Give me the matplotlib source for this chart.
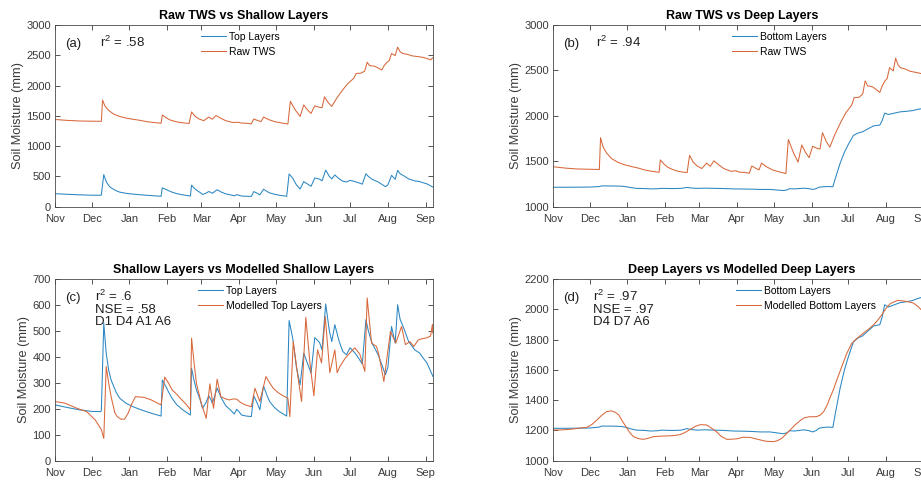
import pandas as pd
import matplotlib
matplotlib.use("Agg")
import matplotlib.pyplot as plt
import matplotlib.dates as mdates

plt.rcParams["font.family"] = ["Liberation Sans", "DejaVu Sans"]
plt.rcParams["mathtext.fontset"] = "custom"
plt.rcParams["mathtext.rm"] = "Liberation Sans"
plt.rcParams["mathtext.it"] = "Liberation Sans:italic"

# days counted from 1 Nov
tws_day = [0, 10, 20, 30, 38, 39, 41, 44, 48, 53, 59, 65, 70, 75, 81, 87, 88, 91, 94, 98,
           102, 106, 110, 112, 115, 118, 122, 126, 129, 132, 136, 140, 146, 150, 153, 157,
           161, 163, 166, 169, 171, 175, 180, 185, 191, 193, 197, 201, 204, 207, 210, 213,
           217, 219, 221, 224, 227, 231, 236, 240, 245, 247, 251, 254, 256, 258, 262, 265,
           268, 270, 272, 274, 276, 279, 281, 283, 285, 289, 293, 297, 302, 306, 308, 310]
tws_val = [1440, 1425, 1415, 1412, 1410, 1760, 1660, 1590, 1530, 1490, 1460, 1440, 1425,
           1405, 1390, 1378, 1515, 1470, 1435, 1410, 1392, 1382, 1375, 1565, 1490, 1450,
           1420, 1480, 1445, 1505, 1460, 1420, 1390, 1395, 1380, 1378, 1368, 1448, 1425,
           1405, 1480, 1440, 1405, 1385, 1365, 1740, 1600, 1490, 1680, 1600, 1540, 1665,
           1640, 1635, 1815, 1720, 1655, 1790, 1930, 2030, 2120, 2200, 2205, 2240, 2385,
           2330, 2320, 2290, 2258, 2330, 2380, 2410, 2530, 2495, 2635, 2560, 2530, 2515,
           2490, 2480, 2465, 2440, 2425, 2460]

top_day = [0, 10, 20, 30, 37, 38, 40, 42, 44, 46, 50, 53, 58, 64, 70, 75, 81, 87, 88, 91,
           93, 96, 100, 105, 111, 112, 114, 116, 119, 121, 124, 126, 128, 129, 131, 133,
           136, 140, 144, 147, 149, 151, 153, 157, 161, 163, 166, 168, 171, 174, 176, 180,
           184, 190, 192, 195, 198, 201, 204, 207, 210, 213, 215, 217, 219, 222, 225, 227,
           229.5, 233, 236, 239, 242, 246, 249, 252, 255, 257, 260, 265, 268, 271, 273,
           276, 279, 281, 283, 286, 290, 295, 299, 302, 305, 308, 310]
top_val = [215, 205, 196, 190, 189, 192, 530, 414, 350, 311, 265, 241, 222, 208, 197, 189,
           180, 172, 311, 285, 266, 240, 215, 195, 176, 356, 310, 273, 235, 202, 225, 250,
           235, 221, 250, 280, 245, 212, 195, 180, 198, 188, 176, 172, 170, 250, 220, 196,
           288, 250, 228, 205, 189, 172, 540, 470, 360, 292, 414, 376, 337, 474, 465, 455,
           427, 604, 500, 459, 524, 460, 421, 408, 435, 415, 395, 372, 543, 500, 453, 408,
           370, 331, 360, 517, 453, 601, 545, 511, 459, 427, 415, 395, 377, 345, 324]

mtop_day = [0, 8, 18, 26, 33, 36, 38, 40, 42, 44, 46, 49, 51, 54, 57, 60, 63, 66, 70, 73,
            79, 84, 87, 88, 90, 93, 96, 100, 104, 108, 111, 112, 114, 116, 120, 124, 127,
            130, 133, 136, 140, 143, 146, 149, 152, 156, 161, 164, 168, 173, 176, 179, 183,
            187, 191, 192.6, 195.4, 199, 202.2, 205.7, 209, 212.3, 215.3, 218.6, 221.6,
            225.4, 229.5, 231.4, 233.6, 238, 241.8, 245.9, 250, 254.1, 256, 259.6, 263.7,
            266, 269.7, 275.1, 279.5, 284.2, 287.4, 291, 294.3, 297.8, 301, 304.6, 308,
            309.5, 310]
mtop_val = [228, 222, 202, 189, 157, 135, 120, 86, 363, 300, 247, 185, 170, 160, 160, 183,
            220, 247, 245, 244, 234, 222, 215, 250, 322, 300, 273, 255, 234, 215, 196, 472,
            380, 298, 221, 163, 296, 202, 314, 247, 238, 234, 238, 237, 225, 215, 208, 279,
            228, 324, 300, 279, 262, 250, 241, 170, 459, 330, 228, 552, 380, 250, 427, 377,
            556, 339, 427, 339, 363, 395, 415, 435, 410, 344, 627, 453, 440, 400, 305, 498,
            453, 517, 447, 459, 440, 465, 470, 473, 480, 525, 490]

bot_day = [0, 10, 20, 30, 38, 40, 50, 56, 60, 64, 68, 75, 80, 86, 89, 95, 100, 105, 110,
           113, 118, 125, 132, 140, 148, 155, 163, 170, 178, 185, 189, 192, 194, 198, 202,
           206, 210, 213, 216, 218, 222, 226, 229.5, 231.5, 235.5, 239, 242.3, 246.4, 250,
           254, 258.7, 263, 268, 270, 272, 275, 280, 284.7, 290, 295, 298, 302, 306, 310]
bot_val = [1214, 1214, 1215, 1216, 1222, 1229, 1228, 1226, 1220, 1210, 1202, 1200, 1196,
           1198, 1202, 1200, 1200, 1202, 1212, 1206, 1202, 1204, 1202, 1200, 1196, 1195,
           1193, 1190, 1190, 1182, 1178, 1185, 1198, 1196, 1200, 1204, 1198, 1190, 1200,
           1214, 1220, 1222, 1220, 1310, 1480, 1600, 1688, 1785, 1810, 1825, 1860, 1890,
           1898, 1950, 2030, 2015, 2030, 2044, 2050, 2058, 2068, 2078, 2080, 2085]

mbot_day = [0, 6, 15, 22, 28, 32, 36, 40, 44, 48, 51, 54, 57, 60.7, 63, 66, 70, 74, 78,
            82.5, 90, 98, 104, 108, 112.6, 117, 120.8, 126, 130, 134, 138, 142.6, 147, 151,
            156, 161.7, 166, 170, 175, 181, 184, 187.7, 191, 194.5, 199, 202.7, 206, 210,
            216, 219, 222, 225, 227, 230, 232.8, 237, 241, 245, 248, 254.6, 259, 263, 266,
            269.7, 273, 276.5, 280, 283, 287, 290, 295.6, 299, 302, 306, 310]
mbot_val = [1203, 1203, 1208, 1215, 1221, 1240, 1269, 1300, 1324, 1329, 1320, 1302, 1260,
            1214, 1185, 1159, 1146, 1141, 1148, 1159, 1163, 1165, 1172, 1185, 1207, 1228,
            1238, 1236, 1215, 1192, 1160, 1141, 1142, 1145, 1155, 1154, 1145, 1137, 1128,
            1126, 1132, 1148, 1175, 1203, 1240, 1265, 1283, 1290, 1291, 1300, 1324, 1370,
            1413, 1470, 1534, 1625, 1710, 1775, 1799, 1843, 1870, 1898, 1925, 1964, 2005,
            2037, 2050, 2059, 2055, 2052, 2041, 2020, 1997, 1975, 1955]

start = pd.Timestamp("2014-11-01")
end = start + pd.Timedelta(days=310)


def dates(days):
    return start + pd.to_timedelta(days, unit="D")


blue = "#2a86c2"
orange = "#d8673a"
dark = "#3a3a3a"

fig = plt.figure(figsize=(9.21, 4.83), dpi=100)
w, h = 378 / 921, 181.7 / 483
ax_a = fig.add_axes([55 / 921, 1 - 206.7 / 483, w, h])
ax_b = fig.add_axes([553 / 921, 1 - 206.7 / 483, w, h])
ax_c = fig.add_axes([55 / 921, 1 - 460.7 / 483, w, h])
ax_d = fig.add_axes([553 / 921, 1 - 460.7 / 483, w, h])


def style(ax, ylim, yticks, title):
    ax.set_xlim(start, end)
    ax.set_ylim(*ylim)
    ax.set_yticks(yticks)
    ax.xaxis.set_major_locator(mdates.MonthLocator())
    ax.xaxis.set_major_formatter(mdates.DateFormatter("%b"))
    ax.tick_params(direction="in", top=True, right=True, length=3.5, width=0.6,
                   labelsize=8, colors=dark)
    ax.tick_params(axis="x", pad=5)
    ax.tick_params(axis="y", pad=3)
    for s in ax.spines.values():
        s.set_color("#4a4a4a")
        s.set_linewidth(0.6)
    ax.set_ylabel("Soil Moisture (mm)", fontsize=9.2, color=dark, labelpad=1.5)
    ax.set_title(title, fontsize=9, fontweight="bold", color="black", pad=4)


def legend(ax, x):
    ax.legend(loc="upper left", bbox_to_anchor=(x, 0.962), frameon=False, fontsize=7.5,
              borderpad=0, borderaxespad=0, handlelength=2.4, handletextpad=0.3,
              labelspacing=0.45)


def notes(ax, tag, x2, lines):
    ax.text(0.026, 0.88, tag, transform=ax.transAxes, fontsize=9.5, color="#202020")
    ax.text(x2, 0.88, lines[0], transform=ax.transAxes, fontsize=9.5, color="#202020")
    for i, s in enumerate(lines[1:]):
        ax.text(x2, 0.813 - i * 0.067, s, transform=ax.transAxes, fontsize=9.5,
                color="#202020")


lw = 0.75

ax_a.plot(dates(top_day), top_val, color=blue, lw=lw, label="Top Layers")
ax_a.plot(dates(tws_day), tws_val, color=orange, lw=lw, label="Raw TWS")
style(ax_a, (0, 3000), range(0, 3001, 500), "Raw TWS vs Shallow Layers")
legend(ax_a, 0.385)
notes(ax_a, "(a)", 0.119, ["r$^2$ = .58"])

ax_b.plot(dates(bot_day), bot_val, color=blue, lw=lw, label="Bottom Layers")
ax_b.plot(dates(tws_day), tws_val, color=orange, lw=lw, label="Raw TWS")
style(ax_b, (1000, 3000), range(1000, 3001, 500), "Raw TWS vs Deep Layers")
legend(ax_b, 0.474)
notes(ax_b, "(b)", 0.115, ["r$^2$ = .94"])

ax_c.plot(dates(top_day), top_val, color=blue, lw=lw, label="Top Layers")
ax_c.plot(dates(mtop_day), mtop_val, color=orange, lw=lw, label="Modelled Top Layers")
style(ax_c, (0, 700), range(0, 701, 100), "Shallow Layers vs Modelled Shallow Layers")
legend(ax_c, 0.379)
notes(ax_c, "(c)", 0.106, ["r$^2$ = .6", "NSE = .58", "D1 D4 A1 A6"])

ax_d.plot(dates(bot_day), bot_val, color=blue, lw=lw, label="Bottom Layers")
ax_d.plot(dates(mbot_day), mbot_val, color=orange, lw=lw, label="Modelled Bottom Layers")
style(ax_d, (1000, 2200), range(1000, 2201, 200), "Deep Layers vs Modelled Deep Layers")
legend(ax_d, 0.484)
notes(ax_d, "(d)", 0.105, ["r$^2$ = .97", "NSE = .97", "D4 D7 A6"])

fig.savefig("out.png", dpi=100)
